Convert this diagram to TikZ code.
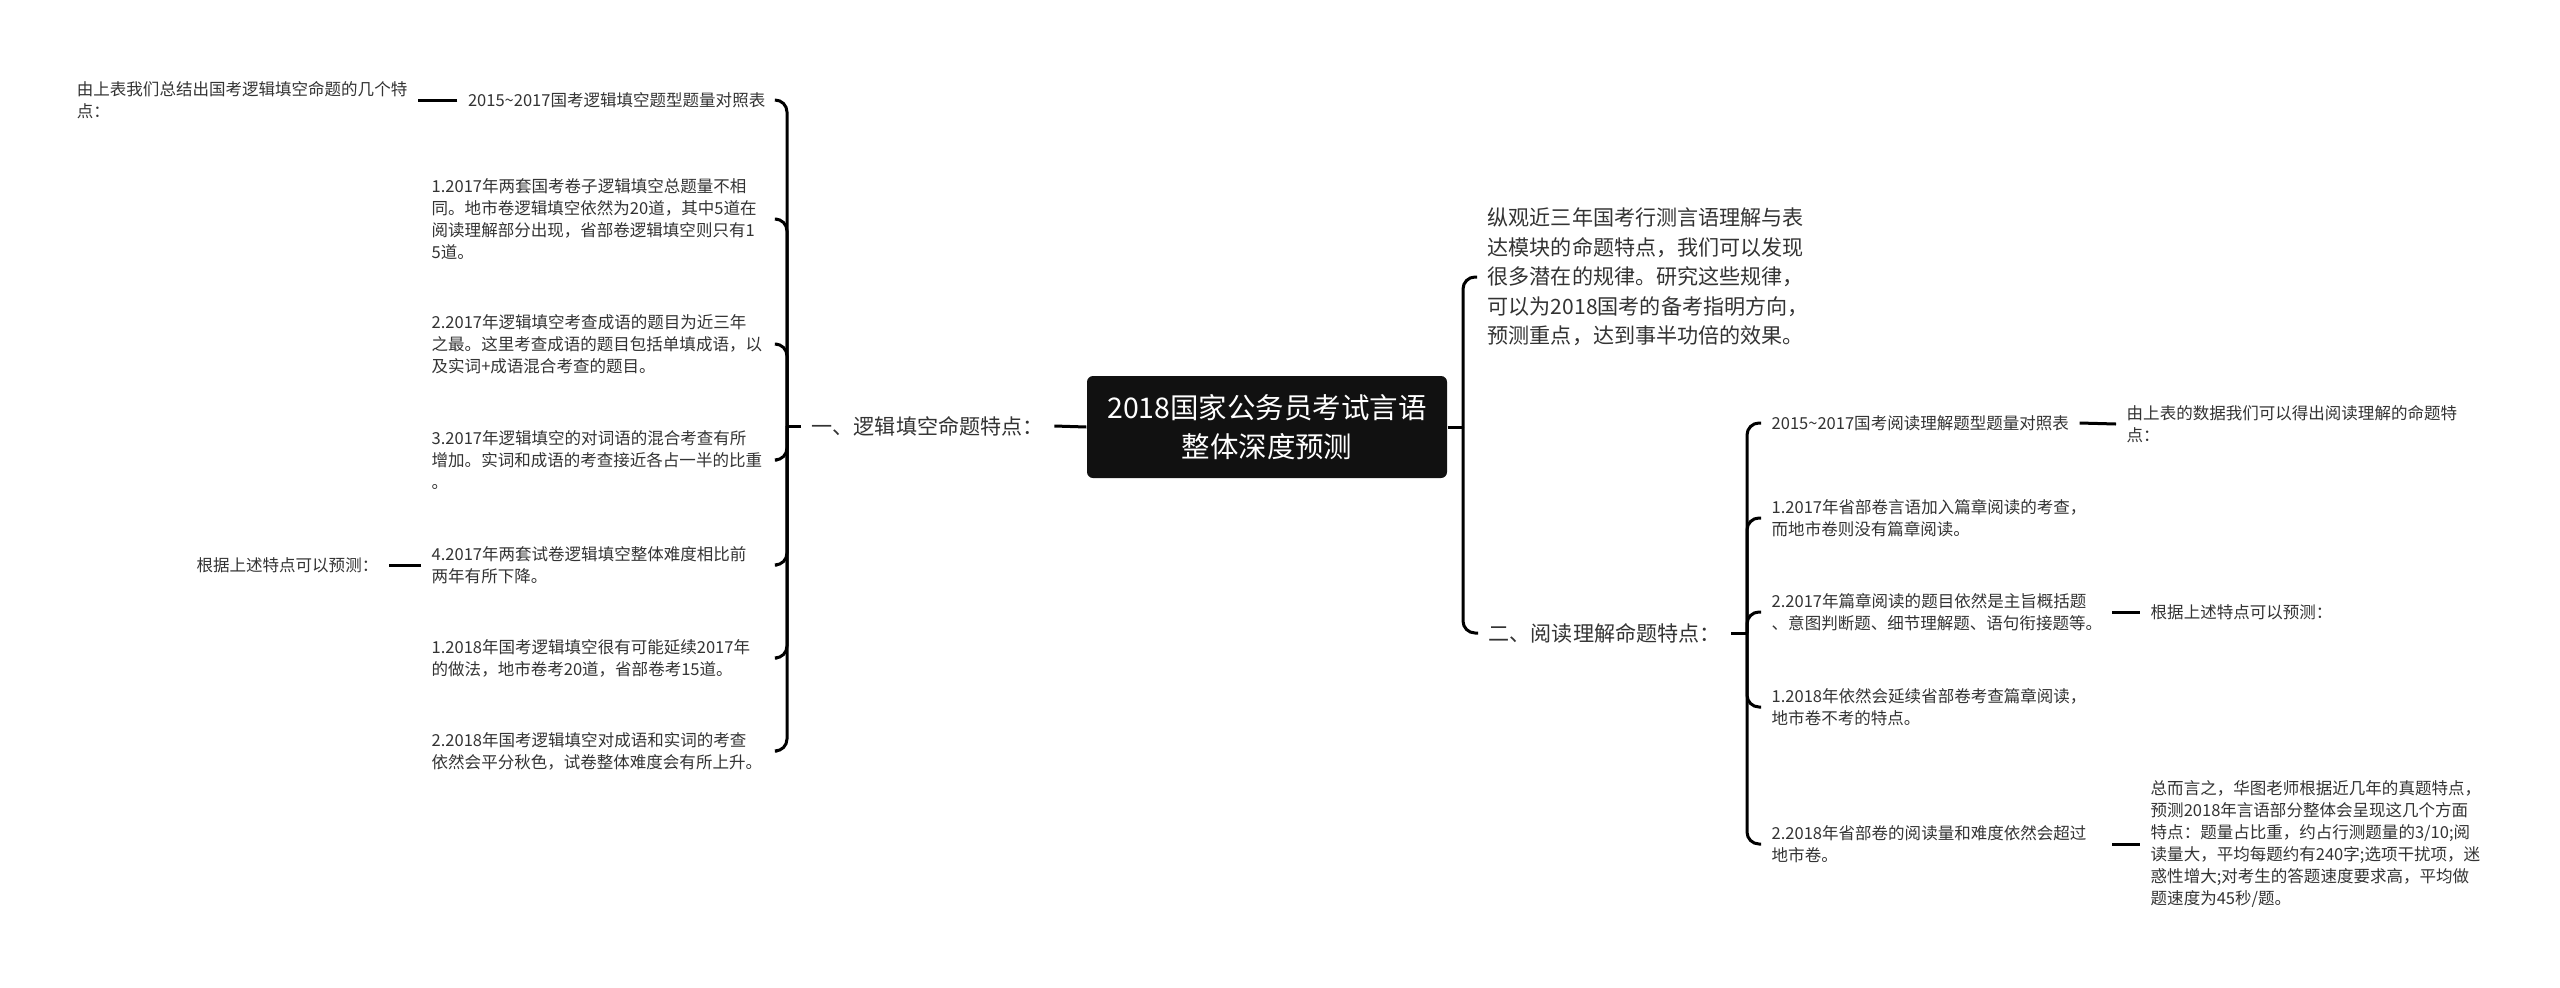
\documentclass[tikz,border=0pt]{standalone}
\usepackage{fontspec}
\setmainfont{Noto Sans CJK SC}
\definecolor{txt}{HTML}{333333}
\definecolor{rootbg}{HTML}{111111}

\begin{document}
\begin{tikzpicture}[x=1cm, y=-1cm,
    every node/.style={inner xsep=0.1cm, inner ysep=0.03cm, text=txt},
    leaf/.style={font=\fontsize{4.7pt}{6.3pt}\selectfont, align=left},
    item/.style={leaf, text width=3.35cm, anchor=west},
    ritem/.style={leaf, text width=3.3cm, anchor=west},
    topic/.style={font=\fontsize{6pt}{8.4pt}\selectfont, align=left},
    root/.style={fill=rootbg, text=white, rounded corners=0.06cm, minimum width=3.6cm,
        minimum height=1.02cm, align=center, font=\fontsize{8.1pt}{11.1pt}\selectfont},
    link/.style={line width=0.03cm, rounded corners=0.12cm}]
    \useasboundingbox (0,0) rectangle (25.6,9.87);

    % Centre
    \node[root] (root) at (12.67, 4.27) {2018国家公务员考试言语\\整体深度预测};

    % Left branch - logic fill-in
    \node[topic, anchor=west] (logic) at (8.01, 4.26) {一、逻辑填空命题特点：};
    \coordinate (lj) at (7.87, 4.26);
    \draw[link] (root.west) -- (logic.east);
    \draw[link] (logic.west) -- (lj);

    \node[leaf, anchor=east] (ltab) at (7.76, 1.00) {2015\textasciitilde2017国考逻辑填空题型题量对照表};
    \node[leaf, anchor=east] (lsum) at (4.18, 1.00) {由上表我们总结出国考逻辑填空命题的几个特\\点：};
    \node[item] (l1) at (4.21, 2.19) {1.2017年两套国考卷子逻辑填空总题量不相\\同。地市卷逻辑填空依然为20道，其中5道在\\阅读理解部分出现，省部卷逻辑填空则只有1\\5道。};
    \node[item] (l2) at (4.21, 3.44) {2.2017年逻辑填空考查成语的题目为近三年\\之最。这里考查成语的题目包括单填成语，以\\及实词+成语混合考查的题目。};
    \node[item] (l3) at (4.21, 4.60) {3.2017年逻辑填空的对词语的混合考查有所\\增加。实词和成语的考查接近各占一半的比重\\。};
    \node[item] (l4) at (4.21, 5.65) {4.2017年两套试卷逻辑填空整体难度相比前\\两年有所下降。};
    \node[leaf, anchor=east] (lpre) at (3.89, 5.65) {根据上述特点可以预测：};
    \node[item] (l5) at (4.21, 6.58) {1.2018年国考逻辑填空很有可能延续2017年\\的做法，地市卷考20道，省部卷考15道。};
    \node[item] (l6) at (4.21, 7.51) {2.2018年国考逻辑填空对成语和实词的考查\\依然会平分秋色，试卷整体难度会有所上升。};

    \foreach \n in {ltab,l1,l2,l3,l4,l5,l6}
        \draw[link] (lj) |- (\n.east);
    \draw[link] (ltab.west) -- (lsum.east);
    \draw[link] (l4.west) -- (lpre.east);

    % Right branch - intro and reading
    \coordinate (rj) at (14.63, 4.27);
    \draw[link] (root.east) -- (rj);
    \node[topic, anchor=west] (intro) at (14.77, 2.77) {纵观近三年国考行测言语理解与表\\达模块的命题特点，我们可以发现\\很多潜在的规律。研究这些规律，\\可以为2018国考的备考指明方向，\\预测重点，达到事半功倍的效果。};
    \node[topic, anchor=west] (read) at (14.78, 6.33) {二、阅读理解命题特点：};
    \draw[link] (rj) |- (intro.west);
    \draw[link] (rj) |- (read.west);

    \coordinate (rrj) at (17.47, 6.33);
    \draw[link] (read.east) -- (rrj);

    \node[leaf, anchor=west] (rtab) at (17.61, 4.23) {2015\textasciitilde2017国考阅读理解题型题量对照表};
    \node[leaf, anchor=west] (rsum) at (21.16, 4.24) {由上表的数据我们可以得出阅读理解的命题特\\点：};
    \node[ritem] (r1) at (17.61, 5.18) {1.2017年省部卷言语加入篇章阅读的考查，\\而地市卷则没有篇章阅读。};
    \node[ritem] (r2) at (17.61, 6.12) {2.2017年篇章阅读的题目依然是主旨概括题\\、意图判断题、细节理解题、语句衔接题等。};
    \node[leaf, anchor=west] (rpre) at (21.40, 6.12) {根据上述特点可以预测：};
    \node[ritem] (r3) at (17.61, 7.07) {1.2018年依然会延续省部卷考查篇章阅读，\\地市卷不考的特点。};
    \node[ritem] (r4) at (17.61, 8.44) {2.2018年省部卷的阅读量和难度依然会超过\\地市卷。};
    \node[leaf, anchor=west] (rend) at (21.40, 8.44) {总而言之，华图老师根据近几年的真题特点，\\预测2018年言语部分整体会呈现这几个方面\\特点：题量占比重，约占行测题量的3/10;阅\\读量大，平均每题约有240字;选项干扰项，迷\\惑性增大;对考生的答题速度要求高，平均做\\题速度为45秒/题。};

    \foreach \n in {rtab,r1,r2,r3,r4}
        \draw[link] (rrj) |- (\n.west);
    \draw[link] (rtab.east) -- (rsum.west);
    \draw[link] (r2.east) -- (rpre.west);
    \draw[link] (r4.east) -- (rend.west);
\end{tikzpicture}
\end{document}
